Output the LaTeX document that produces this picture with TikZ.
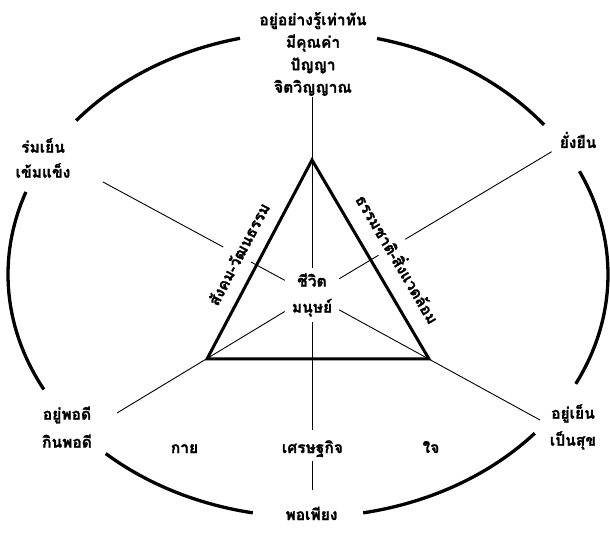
\documentclass[tikz,border=0pt]{standalone}
\usepackage{fontspec}
\newfontfamily\thaifont[Script=Thai, BoldFeatures={FakeBold=1.2}]{Loma}
\begin{document}
\begin{tikzpicture}[x=1pt,y=1pt,
  lbl/.style={font=\thaifont\bfseries\fontsize{15.6}{22.5}\selectfont, align=center, inner sep=0pt},
  spoke/.style={line width=0.9pt},
  rim/.style={line width=3.3pt},
  tri/.style={line width=3pt, line join=miter},
  gapfill/.style={fill=white, inner xsep=2pt, inner ysep=4pt, text height=19pt, text depth=4pt}]
\useasboundingbox (0,0) rectangle (610,533);
% spoke end points
\coordinate (ulEnd) at (103,351);
\coordinate (urEnd) at (551.7,381.3);
\coordinate (llEnd) at (117,120);
\coordinate (lrEnd) at (540,113);
\coordinate (topEnd) at (312,436);
\coordinate (botEnd) at (312,43);
% triangle corners
\coordinate (A) at (312,373);
\coordinate (B) at (207,174);
\coordinate (C) at (429,174);
% centre
\node[lbl, minimum width=54pt, minimum height=54pt, font=\thaifont\bfseries\fontsize{15.6}{26}\selectfont] (life) at (312,238) {ชีวิต\\มนุษย์};
% spokes
\draw[spoke] (topEnd) -- (life);
\draw[spoke] (life) -- (botEnd);
\draw[spoke] (life) -- (ulEnd);
\draw[spoke] (life) -- (urEnd);
\draw[spoke] (life) -- (llEnd);
\draw[spoke] (life) -- (lrEnd);
% triangle
\draw[tri] (A) -- (B) -- (C) -- cycle;
% outer ellipse in six arcs
\coordinate (E) at (308,258.5);
\foreach \s/\e in {38.1/76.7, 103.1/140.6, 160.1/208.3, 227.6/259.4, 280.6/319.1, 333.2/385.2}{
  \draw[rim] ([shift={(\s:300pt and 242.5pt)}]E) arc[start angle=\s, end angle=\e, x radius=300pt, y radius=242.5pt];
}
% labels on the triangle sides
\node[lbl, gapfill, rotate=62.2] (soc) at (237.5,279.5) {สังคม-วัฒนธรรม};
\node[lbl, gapfill, rotate=-59.5] (nat) at (398.5,274.5) {ธรรมชาติ-สิ่งแวดล้อม};
% bottom row
\node[lbl, gapfill, anchor=base] (eco) at (312.5,80) {เศรษฐกิจ};
\node[lbl, anchor=base] (body) at (184.5,80) {กาย};
\node[lbl, anchor=base] (mind) at (431,80) {ใจ};
% outer labels
\node[lbl] (top) at (313,479) {อยู่อย่างรู้เท่าทัน\\มีคุณค่า\\ปัญญา\\จิตวิญญาณ};
\node[lbl, font=\thaifont\bfseries\fontsize{15.6}{25}\selectfont] (ul) at (43,375) {ร่มเย็น\\เข้มแข็ง};
\node[lbl, anchor=base] (ur) at (578,385) {ยั่งยืน};
\node[lbl, font=\thaifont\bfseries\fontsize{15.6}{28}\selectfont] (ll) at (67,106) {อยู่พอดี\\กินพอดี};
\node[lbl, font=\thaifont\bfseries\fontsize{15.6}{27}\selectfont] (lr) at (573,106) {อยู่เย็น\\เป็นสุข};
\node[lbl, anchor=base] (bot) at (311.5,13) {พอเพียง};
\end{tikzpicture}
\end{document}
